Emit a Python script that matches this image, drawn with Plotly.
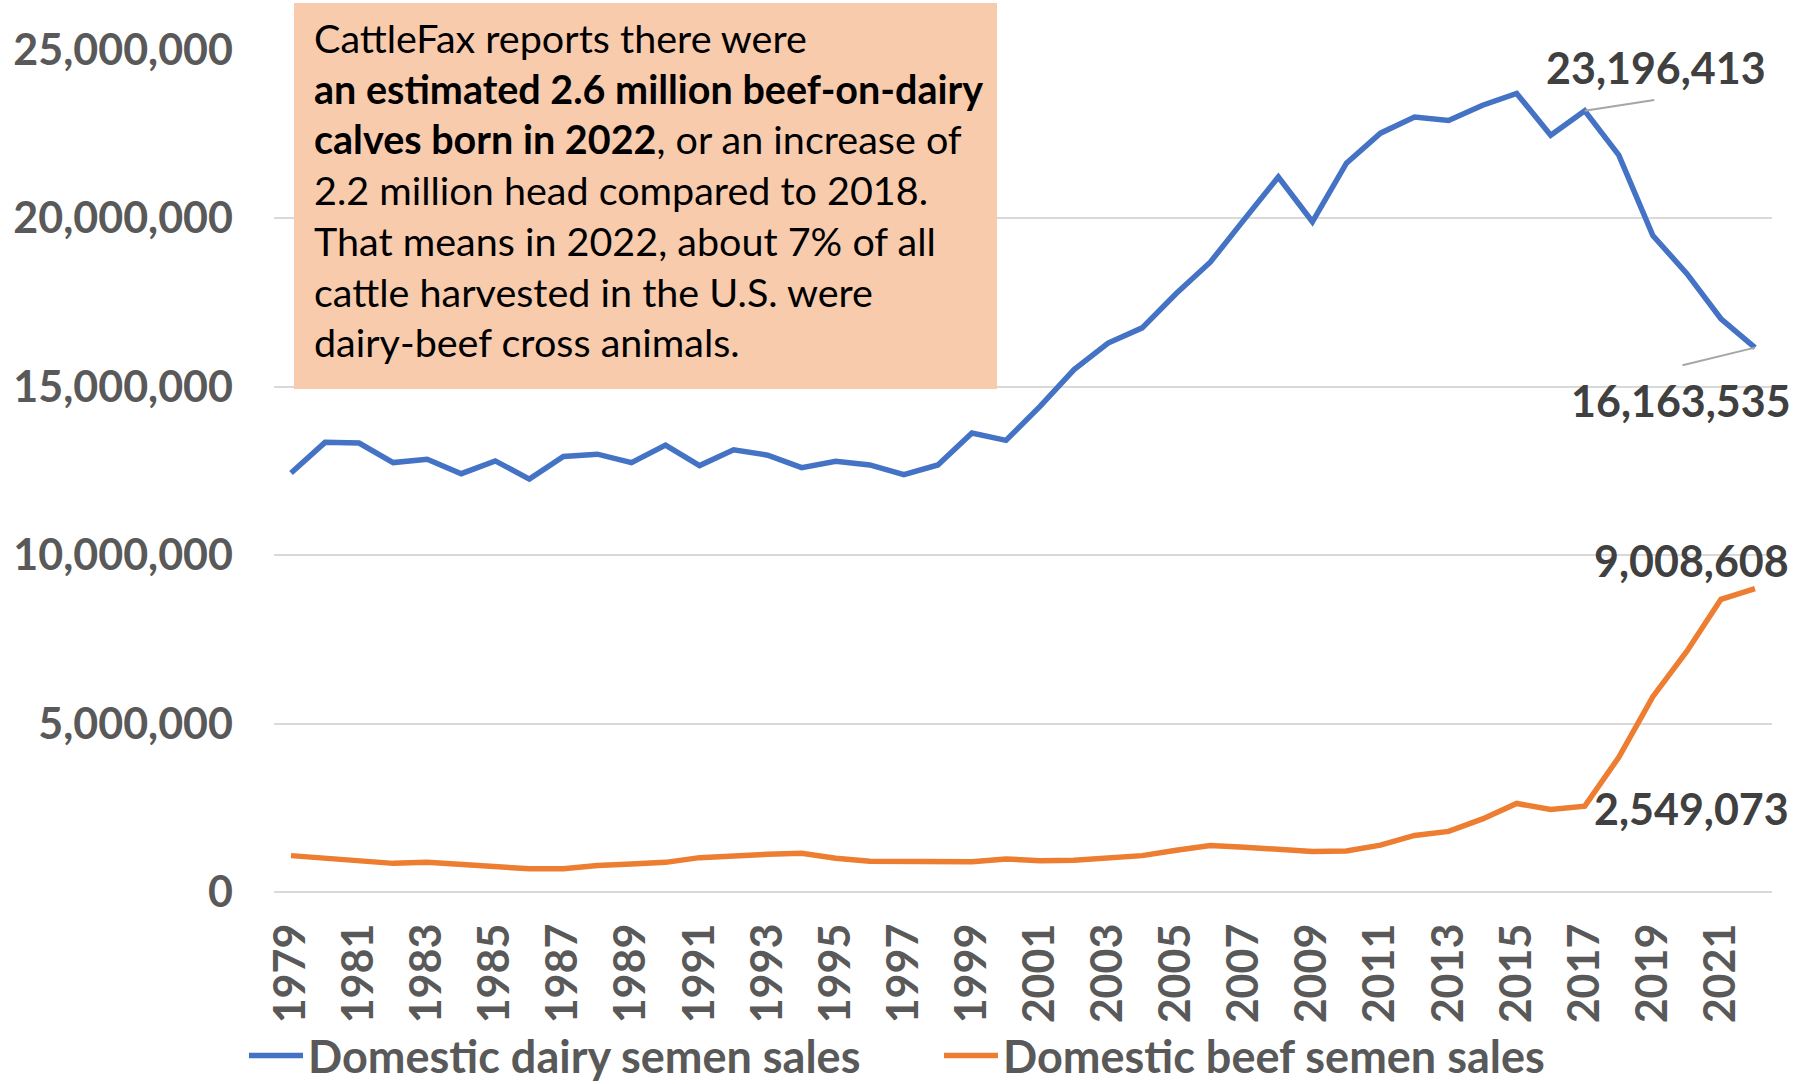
import plotly.graph_objects as go

years = list(range(1979, 2023))
dairy = [12.44e6, 13.35e6, 13.33e6, 12.75e6, 12.85e6, 12.42e6, 12.80e6, 12.26e6, 12.93e6, 13.00e6,
         12.75e6, 13.27e6, 12.66e6, 13.13e6, 12.97e6, 12.60e6, 12.79e6, 12.68e6, 12.39e6, 12.68e6,
         13.63e6, 13.41e6, 14.42e6, 15.51e6, 16.30e6, 16.75e6, 17.77e6, 18.70e6, 19.97e6, 21.23e6,
         19.90e6, 21.64e6, 22.53e6, 23.01e6, 22.91e6, 23.36e6, 23.71e6, 22.47e6, 23196413, 21.88e6,
         19.49e6, 18.36e6, 17.02e6, 16163535]
beef = [1.08e6, 1.01e6, 0.96e6, 0.85e6, 0.88e6, 0.81e6, 0.75e6, 0.69e6, 0.69e6, 0.79e6,
        0.83e6, 0.88e6, 1.02e6, 1.08e6, 1.12e6, 1.15e6, 1.00e6, 0.91e6, 0.92e6, 0.91e6,
        0.90e6, 0.98e6, 0.93e6, 0.94e6, 1.00e6, 1.08e6, 1.24e6, 1.38e6, 1.33e6, 1.27e6,
        1.20e6, 1.22e6, 1.39e6, 1.68e6, 1.80e6, 2.17e6, 2.63e6, 2.45e6, 2549073, 4.0e6,
        5.8e6, 7.15e6, 8.69e6, 9008608]
series_names = ["Domestic dairy semen sales", "Domestic beef semen sales"]
y_ticks = [0, 5e6, 10e6, 15e6, 20e6, 25e6]
x_ticks = list(range(1979, 2022, 2))

BLUE = "#4472C4"
ORANGE = "#ED7D31"
GRID = "#D9D9D9"
TICK = "#595959"
LABEL = "#404040"
FONT = "Lato"

fig = go.Figure()
fig.add_trace(go.Scatter(x=years, y=dairy, mode="lines", name=series_names[0],
                         line=dict(color=BLUE, width=5.5)))
fig.add_trace(go.Scatter(x=years, y=beef, mode="lines", name=series_names[1],
                         line=dict(color=ORANGE, width=5.5)))

lab_font = dict(family=FONT, size=43, color=LABEL, weight="bold")
i17 = years.index(2017)
i22 = years.index(2022)
# data labels
fig.add_annotation(x=2017, y=dairy[i17], text=f"{dairy[i17]:,.0f}", showarrow=False,
                   xshift=71, yshift=43, font=lab_font)
fig.add_annotation(x=2022, y=dairy[i22], text=f"{dairy[i22]:,.0f}", showarrow=False,
                   xshift=-74, yshift=-53, font=lab_font)
fig.add_annotation(x=2022, y=beef[i22], text=f"{beef[i22]:,.0f}", showarrow=False,
                   xshift=-63, yshift=28, font=lab_font)
fig.add_annotation(x=2017, y=beef[i17], text=f"{beef[i17]:,.0f}", showarrow=False,
                   xshift=107, yshift=-2, font=lab_font)
# leader lines
fig.add_annotation(x=2017, y=dairy[i17], text="", showarrow=True, arrowhead=0,
                   arrowwidth=2, arrowcolor="#A6A6A6", ax=71, ay=-11, standoff=0)
fig.add_annotation(x=2022, y=dairy[i22], text="", showarrow=True, arrowhead=0,
                   arrowwidth=2, arrowcolor="#A6A6A6", ax=-74, ay=18, standoff=0)

# callout box (background) and its text
fig.add_annotation(xref="paper", yref="paper", x=0.0134, y=1.0564, xanchor="left", yanchor="top",
                   text=" ", showarrow=False, width=703, height=386, borderpad=0,
                   borderwidth=0, bgcolor="#F8CBAD")
lines = [
    "CattleFax reports there were",
    "<b>an estimated 2.6 million beef-on-dairy</b>",
    "<b>calves born in 2022</b>, or an increase of",
    "2.2 million head compared to 2018.",
    "That means in 2022, about 7% of all",
    "cattle harvested in the U.S. were",
    "dairy-beef cross animals.",
]
box_text = "<br>".join(f"<span style='font-size:39.5px'>{l}</span>" for l in lines)
fig.add_annotation(xref="paper", yref="paper", x=0.0267, y=1.0427, xanchor="left", yanchor="top",
                   text=box_text, showarrow=False, align="left", borderpad=0, borderwidth=0,
                   font=dict(family=FONT, size=39, color="#000000"))

fig.update_layout(
    width=1810, height=1084,
    margin=dict(l=274, r=38, t=50, b=192, autoexpand=False),
    paper_bgcolor="white", plot_bgcolor="white",
    font=dict(family=FONT),
    showlegend=True,
    legend=dict(orientation="h", xref="container", x=0.1348, xanchor="left",
                yref="container", y=0.026, yanchor="middle",
                itemwidth=54,
                entrywidth=626, entrywidthmode="pixels",
                font=dict(family=FONT, size=45, color=TICK, weight="bold"),
                bgcolor="rgba(0,0,0,0)"),
    xaxis=dict(range=[1978.5, 2022.5], tickvals=x_ticks, tickangle=-90, automargin=False,
               showgrid=False, showline=False, zeroline=False, ticks="",
               ticklabelstandoff=22,
               tickfont=dict(family=FONT, size=43, color=TICK, weight="bold")),
    yaxis=dict(range=[0, 25e6], tickvals=y_ticks, tickformat=",d", automargin=False,
               showgrid=True, gridcolor=GRID, gridwidth=2, zeroline=True,
               zerolinecolor=GRID, zerolinewidth=2, showline=False, ticks="",
               ticklabelstandoff=40,
               tickfont=dict(family=FONT, size=43, color=TICK, weight="bold")),
)

fig.write_html("out.html", config={"displayModeBar": False},
               post_script="document.body.style.margin='0';")
